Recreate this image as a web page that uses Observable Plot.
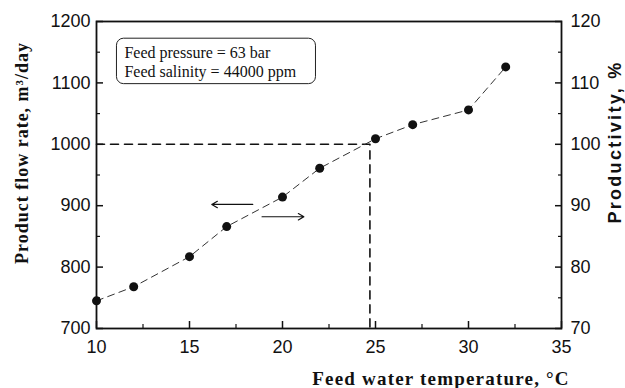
<!DOCTYPE html>
<html><head><meta charset="utf-8">
<script src="https://cdn.jsdelivr.net/npm/d3@7"></script>
<script src="https://cdn.jsdelivr.net/npm/@observablehq/plot@0.6"></script>
<style>body{margin:0;background:#fff}</style>
</head><body><div id="chart"></div>
<script>
const temperature = [10, 12, 15, 17, 20, 22, 25, 27, 30, 32];
const flowRate = [745, 768, 817, 866, 914, 961, 1009, 1032, 1056, 1126];
const xTicks = [10, 15, 20, 25, 30, 35];
const xMinorTicks = [12.5, 17.5, 22.5, 27.5, 32.5];
const yTicks = [700, 800, 900, 1000, 1100, 1200];
const yMinorTicks = [750, 850, 950, 1050, 1150];
const productivityTicks = [70, 80, 90, 100, 110, 120];
const guideX = [10, 24.7, 24.7];
const guideY = [1000, 1000, 700];
const arrowX1 = [18.4, 18.9];
const arrowX2 = [16.2, 21.15];
const arrowY = [902, 882];
const noteLines = ["Feed pressure = 63 bar", "Feed salinity = 44000 ppm"];
const noteY = [1149, 1118];
const noteBox = {x1: 11.1, x2: 21.8, y1: 1098, y2: 1172};
const leftTitle = "Product flow rate, m³/day";
const rightTitle = "Productivity, %";
const bottomTitle = "Feed water temperature, °C";

const pts = temperature.map((t, i) => ({t, f: flowRate[i]}));
const guide = guideX.map((x, i) => ({x, y: guideY[i]}));
const arrows = arrowX1.map((x1, i) => ({x1, x2: arrowX2[i], y: arrowY[i]}));
const notes = noteLines.map((s, i) => ({s, y: noteY[i]}));

const sans = "'Liberation Sans', Arial, sans-serif";
const serif = "'Liberation Serif', 'Times New Roman', serif";

const chart = Plot.plot({
  width: 625, height: 388,
  marginLeft: 96, marginRight: 64, marginTop: 21, marginBottom: 60,
  style: {background: "#fff", color: "#111", fontFamily: sans, overflow: "visible"},
  x: {domain: [10, 35]},
  y: {domain: [700, 1200]},
  marks: [
    Plot.line(guide, {x: "x", y: "y", stroke: "#111", strokeWidth: 1.6, strokeDasharray: "8,6"}),
    Plot.line(pts, {x: "t", y: "f", stroke: "#333", strokeWidth: 1, strokeDasharray: "7,5"}),
    Plot.dot(pts, {x: "t", y: "f", r: 4.5, fill: "#111"}),
    Plot.arrow(arrows, {x1: "x1", x2: "x2", y1: "y", y2: "y", stroke: "#111", strokeWidth: 1.2, headLength: 8, bend: 0}),
    Plot.rect([noteBox], {x1: "x1", x2: "x2", y1: "y1", y2: "y2", rx: 7, fill: "none", stroke: "#222", strokeWidth: 1}),
    Plot.text(notes, {x: 11.5, y: "y", text: "s", textAnchor: "start", fontFamily: serif, fontSize: 16, fill: "#111"}),
    Plot.frame({stroke: "#111", strokeWidth: 1.8}),
    // x axis
    Plot.axisX({ticks: xTicks, tickSize: 0, tickPadding: 12, fontSize: 18, tickFormat: d => String(d)}),
    Plot.axisX({ticks: xTicks, tickSize: -7, strokeWidth: 1.5, tickFormat: () => ""}),
    Plot.axisX({ticks: xMinorTicks, tickSize: -4, strokeWidth: 1.2, tickFormat: () => ""}),
    // left axis
    Plot.axisY({ticks: yTicks, tickSize: 0, tickPadding: 6, fontSize: 18, tickFormat: d => String(d)}),
    Plot.axisY({ticks: yTicks, tickSize: -7, strokeWidth: 1.5, tickFormat: () => ""}),
    Plot.axisY({ticks: yMinorTicks, tickSize: -4, strokeWidth: 1.2, tickFormat: () => ""}),
    // right axis
    Plot.axisY({anchor: "right", ticks: yTicks, tickSize: 0, tickPadding: 9, fontSize: 18,
      tickFormat: d => String(productivityTicks[yTicks.indexOf(d)])}),
    Plot.axisY({anchor: "right", ticks: yTicks, tickSize: -7, strokeWidth: 1.5, tickFormat: () => ""}),
    Plot.axisY({anchor: "right", ticks: yMinorTicks, tickSize: -4, strokeWidth: 1.2, tickFormat: () => ""}),
    // axis titles
    Plot.text([leftTitle], {frameAnchor: "left", textAnchor: "middle", dx: -74, dy: -22, rotate: -90,
      fontFamily: serif, fontWeight: "bold", fontSize: 18, fill: "#111"}),
    Plot.text([rightTitle], {frameAnchor: "right", textAnchor: "middle", dx: 54, dy: -33, rotate: -90,
      fontFamily: sans, fontWeight: "bold", fontSize: 18, fill: "#111"}),
    Plot.text([bottomTitle], {frameAnchor: "bottom", textAnchor: "middle", dx: 112, dy: 50, lineAnchor: "middle",
      fontFamily: serif, fontWeight: "bold", fontSize: 19, fill: "#111"})
  ]
});
const spacing = new Map([[leftTitle, "1px"], [rightTitle, "2.3px"], [bottomTitle, "1.2px"]]);
d3.select(chart).selectAll("text").each(function() {
  const s = spacing.get(this.textContent);
  if (s) this.style.letterSpacing = s;
});
document.getElementById("chart").append(chart);
</script></body></html>
